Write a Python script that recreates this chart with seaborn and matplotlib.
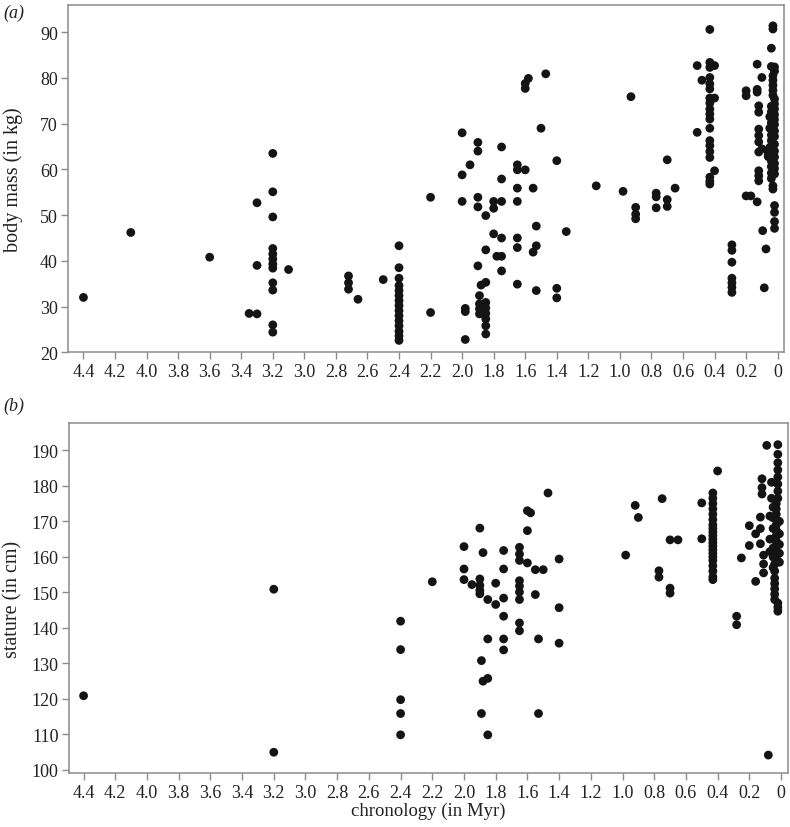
import matplotlib
matplotlib.use("Agg")
import matplotlib.pyplot as plt
import seaborn as sns
import pandas as pd

# ---------------- data: panel (a) body mass ----------------
mass_age = (
    [4.4, 4.1, 3.6, 3.35, 3.3, 3.3, 3.3]
    + [3.2] * 12 + [3.1] + [2.72] * 3 + [2.66, 2.5] + [2.4] * 15 + [2.2, 2.2]
    + [2.0] * 3 + [1.98] * 3 + [1.95] + [1.9] * 5 + [1.89] * 4 + [1.88]
    + [1.85] * 9 + [1.8] * 3 + [1.78] + [1.75] * 6 + [1.65] * 7
    + [1.6] * 3 + [1.58] + [1.55] * 2 + [1.53] * 3 + [1.5, 1.47] + [1.4] * 3
    + [1.34, 1.15, 0.98, 0.93] + [0.9] * 3 + [0.77] * 3 + [0.7] * 3 + [0.65]
    + [0.51, 0.51, 0.48] + [0.43] * 19 + [0.4] * 3 + [0.29] * 7
    + [0.2] * 3 + [0.17] + [0.13] * 4 + [0.12] * 9 + [0.1] * 2
    + [0.095, 0.074, 0.085]
    + [0.03, 0.03, 0.04, 0.04, 0.02, 0.02]
    + [0.03] * 5 + [0.02] * 6 + [0.04] * 7 + [0.05] * 3 + [0.02] * 8
    + [0.06] * 2 + [0.04] * 4 + [0.03] * 2 + [0.02] * 4
)
mass_kg = (
    [32.0, 46.2, 40.8, 28.5, 52.7, 39.0, 28.4]
    + [63.5, 55.1, 49.6, 42.7, 41.5, 40.4, 39.3, 38.4, 35.2, 33.6, 26.0, 24.4]
    + [38.1] + [36.7, 35.2, 33.8] + [31.6, 35.9]
    + [43.3, 38.5, 36.2, 34.6, 33.5, 32.4, 31.3, 30.2, 29.1, 28.0, 26.9, 25.8, 24.6, 23.6, 22.6]
    + [53.9, 28.7]
    + [68.0, 58.8, 53.0] + [29.6, 28.9, 22.8] + [61.0]
    + [65.9, 64.0, 53.9, 51.8, 38.9] + [32.4, 30.6, 29.5, 28.4] + [34.7]
    + [49.9, 42.4, 35.3, 30.9, 29.7, 28.5, 27.3, 25.8, 24.0]
    + [53.0, 51.5, 45.9] + [41.0] + [64.9, 57.9, 53.0, 45.0, 41.0, 37.8]
    + [61.0, 59.9, 55.9, 53.0, 45.0, 42.9, 34.9]
    + [59.9, 77.7, 78.8] + [79.9] + [55.9, 41.9] + [47.6, 43.3, 33.5]
    + [69.0, 80.9] + [61.9, 34.0, 31.9]
    + [46.4, 56.4, 55.2, 75.9] + [51.7, 50.2, 49.2] + [54.8, 54.0, 51.6]
    + [62.1, 53.4, 51.9] + [55.9]
    + [82.7, 68.1, 79.5]
    + [90.6, 83.4, 82.3, 80.1, 78.7, 77.6, 75.6, 74.5, 73.2, 72.1, 71.0, 69.0,
       66.3, 65.2, 63.9, 62.6, 58.3, 57.4, 56.8]
    + [82.7, 75.6, 59.7] + [43.5, 42.3, 39.7, 36.2, 35.2, 34.2, 33.1]
    + [77.2, 76.1, 54.2] + [54.2] + [83.0, 77.5, 76.9, 52.9]
    + [73.9, 72.5, 68.8, 67.4, 66.0, 63.8, 59.7, 58.6, 57.5] + [80.1, 64.5]
    + [46.6, 42.6, 34.1]
    + [91.4, 90.7, 86.5, 82.5, 82.4, 81.5]
    + [80.5, 79.5, 78.4, 77.3, 76.2] + [75.4, 74.3, 73.2, 72.0, 70.9, 69.8]
    + [73.8, 72.6, 71.4, 70.2, 68.9, 67.5, 66.3] + [71.5, 69.0, 64.8]
    + [68.4, 67.2, 65.5, 64.0, 62.7, 61.3, 60.2, 59.0]
    + [63.5, 62.8] + [61.8, 60.6, 59.2, 58.0] + [56.4, 55.7]
    + [52.1, 50.6, 48.6, 47.1]
)

# ---------------- data: panel (b) stature ----------------
stature_age = (
    [4.4, 3.2, 3.2] + [2.4] * 5 + [2.2] + [2.0] * 3 + [1.95] + [1.9] * 5
    + [1.88] * 2 + [1.89] * 2 + [1.85] * 4 + [1.8] * 2 + [1.75] * 6
    + [1.65] * 9 + [1.6] * 3 + [1.58] + [1.55] * 2 + [1.5] + [1.53] * 2
    + [1.47] + [1.4] * 3 + [0.98, 0.92, 0.9, 0.75, 0.77, 0.77]
    + [0.7] * 3 + [0.65] + [0.5] * 2 + [0.43] * 21 + [0.4]
    + [0.02] * 8 + [0.03] * 11 + [0.05] * 7 + [0.01] * 5 + [0.04] * 7
    + [0.02] * 3 + [0.07] * 3 + [0.06] * 2 + [0.09, 0.08] + [0.12] * 3
    + [0.13] * 3 + [0.11] * 3 + [0.16] * 2 + [0.2] * 2 + [0.25] + [0.28] * 2
)
stature_cm = (
    [120.9, 150.9, 105.0] + [141.9, 133.9, 119.8, 115.9, 109.9] + [153.0]
    + [162.9, 156.6, 153.6] + [152.2] + [168.1, 153.8, 152.0, 150.6, 149.6]
    + [161.2, 125.0] + [130.8, 115.9] + [148.0, 136.9, 125.8, 109.9]
    + [152.6, 146.6] + [161.8, 156.6, 148.4, 143.3, 136.9, 133.8]
    + [162.7, 160.8, 159.0, 153.3, 151.8, 150.1, 148.0, 141.4, 139.2]
    + [173.0, 167.4, 158.3] + [172.4] + [156.4, 149.4] + [156.4]
    + [136.9, 115.9] + [178.0] + [159.4, 145.7, 135.7]
    + [160.5, 174.5, 171.1, 176.4, 156.1, 154.3]
    + [164.8, 151.2, 149.8] + [164.8] + [175.2, 165.1]
    + [178.0, 176.5, 175.0, 173.5, 172.0, 170.5, 169.0, 168.0, 167.0, 166.0,
       165.0, 164.0, 163.0, 162.0, 161.0, 160.0, 159.0, 157.5, 156.0, 154.4, 153.6]
    + [184.2]
    + [191.6, 188.9, 186.5, 184.5, 182.5, 180.5, 178.5, 176.5]
    + [175.0, 173.5, 172.0, 170.5, 169.0, 167.5, 166.0, 164.5, 163.0, 161.5, 160.0]
    + [174.0, 171.0, 168.0, 165.0, 162.5, 160.0, 157.0]
    + [170.0, 166.5, 163.5, 161.0, 158.5]
    + [158.0, 156.0, 154.0, 152.5, 151.0, 149.5, 148.0]
    + [147.0, 145.8, 144.7] + [171.5, 165.0, 161.5] + [181.0, 176.5]
    + [191.4, 104.2] + [182.0, 179.5, 177.7] + [171.2, 163.7, 168.0]
    + [160.5, 158.0, 155.5] + [153.1, 166.5] + [168.8, 163.2] + [159.7]
    + [143.3, 140.9]
)

x_ticks = [4.4, 4.2, 4.0, 3.8, 3.6, 3.4, 3.2, 3.0, 2.8, 2.6, 2.4, 2.2, 2.0,
           1.8, 1.6, 1.4, 1.2, 1.0, 0.8, 0.6, 0.4, 0.2, 0.0]
x_tick_labels = ["4.4", "4.2", "4.0", "3.8", "3.6", "3.4", "3.2", "3.0", "2.8",
                 "2.6", "2.4", "2.2", "2.0", "1.8", "1.6", "1.4", "1.2", "1.0",
                 "0.8", "0.6", "0.4", "0.2", "0"]
mass_ticks = [20, 30, 40, 50, 60, 70, 80, 90]
stature_ticks = [100, 110, 120, 130, 140, 150, 160, 170, 180, 190]

df_a = pd.DataFrame({"age": mass_age, "mass": mass_kg})
df_b = pd.DataFrame({"age": stature_age, "stature": stature_cm})

sns.set_style("white")
plt.rcParams["font.family"] = ["Liberation Serif", "DejaVu Serif"]

W, H = 790, 828
fig = plt.figure(figsize=(W / 100, H / 100), dpi=100)

def px_axes(left, top, right, bottom):
    return fig.add_axes([left / W, 1 - bottom / H, (right - left) / W, (bottom - top) / H])

ax_a = px_axes(68.3, 6, 784.3, 353.3)
ax_b = px_axes(69, 424, 788.3, 774.3)

spine_col = "#8c8c8c"
dot_col = "#141414"
tick_fs = 13
ylab_fs = 14.5
xlab_fs = 13.5

for ax, df, ycol, yt, ylim, ylabel, lx in [
    (ax_a, df_a, "mass", mass_ticks, (20, 95.95), "body mass (in kg)", (13 - 68.3) / 716),
    (ax_b, df_b, "stature", stature_ticks, (99.07, 197.7), "stature (in cm)", (13 - 69) / 719.3),
]:
    sns.scatterplot(data=df, x="age", y=ycol, ax=ax, color=dot_col, s=40,
                    edgecolor="none", linewidth=0, legend=False)
    ax.set_yticks(yt)
    ax.set_ylim(*ylim)
    ax.set_xticks(x_ticks)
    ax.set_xticklabels(x_tick_labels)
    ax.set_ylabel(ylabel, fontsize=ylab_fs, color="#222222", va="center")
    ax.yaxis.set_label_coords(lx, 0.5)
    ax.set_xlabel("")
    for sp in ax.spines.values():
        sp.set_color(spine_col)
        sp.set_linewidth(1.1)
        sp.set_visible(True)
    ax.tick_params(axis="both", which="major", direction="out", length=5,
                   width=1.0, color=spine_col, labelsize=tick_fs, pad=2.5,
                   labelcolor="#222222", left=True, bottom=True)

ax_a.set_xlim(4.496, -0.042)
ax_b.set_xlim(4.492, -0.046)
ax_b.set_xlabel("chronology (in Myr)", fontsize=xlab_fs, color="#222222", va="center")
ax_b.xaxis.set_label_coords((428 - 69) / 719.3, (774.3 - 811) / 350.3)

fig.text(3 / W, 1 - 13 / H, "(a)", fontsize=13, style="italic", va="center", ha="left",
         color="#222222")
fig.text(3 / W, 1 - 406 / H, "(b)", fontsize=13, style="italic", va="center", ha="left",
         color="#222222")

fig.savefig("out.png", dpi=100)
